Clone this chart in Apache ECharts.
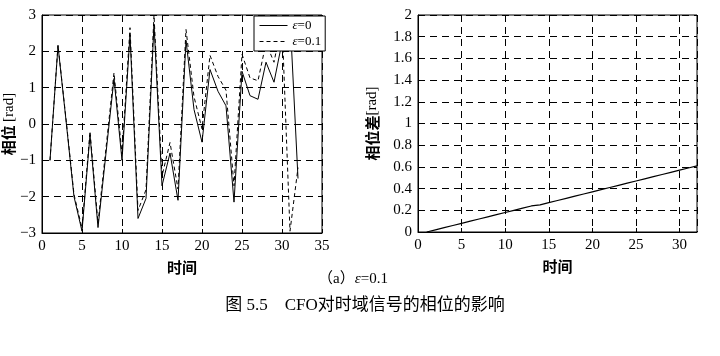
<!DOCTYPE html>
<html><head><meta charset="utf-8">
<script src="https://cdn.jsdelivr.net/npm/echarts@6/dist/echarts.min.js"></script>
<style>html,body{margin:0;padding:0;background:#fff}#c{width:720px;height:356px}</style>
</head><body><div id="c"></div>
<script>
// Sample index (time)
const timeIdx = [1,2,3,4,5,6,7,8,9,10,11,12,13,14,15,16,17,18,19,20,21,22,23,24,25,26,27,28,29,30,31,32];
// Phase [rad], epsilon = 0
const phaseEps0 = [-1.0,2.15,0.1,-2.0,-2.95,-0.3,-2.85,-0.8,1.25,-1.0,2.45,-2.6,-2.05,2.75,-1.7,-0.8,-2.1,2.3,0.4,-0.5,1.5,0.9,0.5,-2.15,1.45,0.78,0.68,1.7,1.15,2.25,2.95,-1.5];
// Phase [rad], epsilon = 0.1
const phaseEps01 = [-1.0,2.17,0.14,-1.94,-2.87,-0.2,-2.73,-0.66,1.41,-0.82,2.65,-2.38,-1.81,3.0,-1.43,-0.51,-1.79,2.6,0.75,-0.13,1.89,1.31,0.93,-1.7,1.92,1.27,1.19,2.23,1.7,2.81,-2.95,-1.2];
// Phase difference [rad]
const phaseDiff = [0,0.02,0.04,0.06,0.08,0.10,0.12,0.14,0.16,0.18,0.20,0.22,0.24,0.25,0.27,0.29,0.31,0.33,0.35,0.37,0.39,0.41,0.43,0.45,0.47,0.49,0.51,0.53,0.55,0.57,0.59,0.61];
const legendNames = ['ε=0','ε=0.1'];
const captionText = '（a）{i|ε}=0.1';
const figTitle = '图 5.5　CFO对时域信号的相位的影响';

const zip = (xs, ys) => xs.map((x,i)=>[x, ys[i]]);
const serif = 'Liberation Serif';
const grid = {lineStyle:{color:'#000', type:[7,5], width:1}};
const lab = {color:'#000', fontFamily: serif, fontSize: 15, margin: 6,
  formatter: v => String(v).replace('-', '−')};
const tick = {show:true, inside:true, length:4, lineStyle:{color:'#000'}};
const axLine = {show:true, onZero:false, lineStyle:{color:'#000'}};
const nameStyle = {color:'#000', rich:{
  a:{fontFamily:'Noto Sans CJK SC', fontWeight:'bold', fontSize:15, color:'#000'},
  b:{fontFamily: serif, fontSize:15, color:'#000'}}};

const chart = echarts.init(document.getElementById('c'), null, {renderer:'canvas'});
chart.setOption({
  animation:false,
  backgroundColor:'#fff',
  title:[
    {text: captionText, left: 348, top: 267, textAlign:'center',
     textStyle:{fontFamily: serif + ', Noto Sans CJK SC', fontSize:15, fontWeight:'normal', color:'#000',
       rich:{i:{fontFamily: serif, fontStyle:'italic', fontSize:15, color:'#000'}}}},
    {text: figTitle, left: 360, top: 292, textAlign:'center',
     textStyle:{fontFamily: serif + ', Noto Sans CJK SC', fontSize:17, fontWeight:'normal', color:'#000'}}
  ],
  grid:[
    {left:42, top:15, width:280, height:218, show:true, borderColor:'#000', borderWidth:1},
    {left:418, top:15, width:279, height:217, show:true, borderColor:'#000', borderWidth:1}
  ],
  legend:{
    data: legendNames, orient:'vertical', left:254, top:16,
    itemWidth:28, itemHeight:10, itemGap:3, padding:[3,4,3,5],
    backgroundColor:'#fff', borderColor:'#000', borderWidth:1,
    itemStyle:{opacity:0}, lineStyle:{width:1},
    formatter: n => n.replace('ε', '{i|ε}'),
    textStyle:{fontFamily: serif, fontSize:13, color:'#000',
      rich:{i:{fontFamily: serif, fontStyle:'italic', fontSize:13, color:'#000'}}}
  },
  xAxis:[
    {type:'value', gridIndex:0, min:0, max:35, interval:5,
     axisLine:axLine, axisTick:tick, axisLabel:lab, splitLine:grid,
     name:'{a|时间}', nameLocation:'middle', nameGap:27, nameTextStyle:nameStyle},
    {type:'value', gridIndex:1, min:0, max:32, interval:5,
     axisLine:axLine, axisTick:tick, axisLabel:Object.assign({showMaxLabel:false}, lab), splitLine:grid,
     name:'{a|时间}', nameLocation:'middle', nameGap:27, nameTextStyle:nameStyle}
  ],
  yAxis:[
    {type:'value', gridIndex:0, min:-3, max:3, interval:1,
     axisLine:axLine, axisTick:tick, axisLabel:lab, splitLine:grid,
     name:'{a|相位} {b|[rad]}', nameLocation:'middle', nameGap:22, nameTextStyle:nameStyle},
    {type:'value', gridIndex:1, min:0, max:2, interval:0.2,
     axisLine:axLine, axisTick:tick, axisLabel:lab, splitLine:grid,
     name:'{a|相位差}{b|[rad]}', nameLocation:'middle', nameGap:38, nameTextStyle:nameStyle}
  ],
  series:[
    {name:legendNames[0], type:'line', xAxisIndex:0, yAxisIndex:0, data: zip(timeIdx, phaseEps0),
     symbol:'none', lineStyle:{color:'#000', width:1}, itemStyle:{color:'#000'}, z:3},
    {name:legendNames[1], type:'line', xAxisIndex:0, yAxisIndex:0, data: zip(timeIdx, phaseEps01),
     symbol:'none', lineStyle:{color:'#000', width:1, type:[4,3]}, itemStyle:{color:'#000'}, z:2},
    {name:'diff', type:'line', xAxisIndex:1, yAxisIndex:1, data: zip(timeIdx, phaseDiff),
     symbol:'none', lineStyle:{color:'#000', width:1.2}, itemStyle:{color:'#000'}}
  ]
});
</script></body></html>
